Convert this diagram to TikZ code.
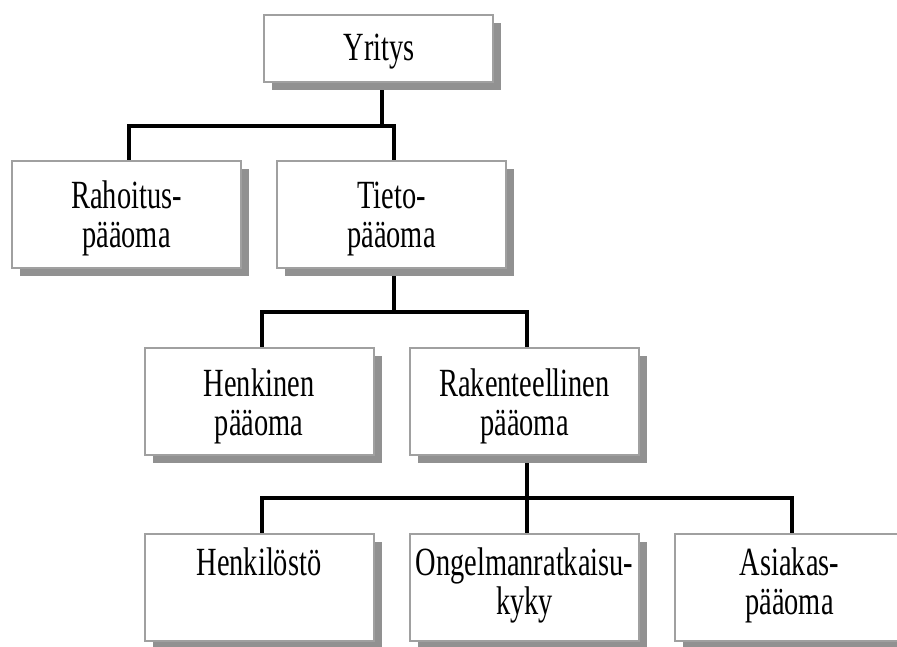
\documentclass[tikz,border=0pt]{standalone}
\usepackage{fontspec}
\setmainfont[FakeStretch=0.71]{Liberation Serif}
\usetikzlibrary{shadows,calc,backgrounds}
\definecolor{bordergray}{RGB}{160,160,160}
\definecolor{shadowgray}{RGB}{145,145,145}
\newcommand{\mytwolines}[2]{\vtop{\halign{\hfil##\hfil\cr#1\cr#2\cr}}}
\tikzset{
  box/.style={draw=bordergray, line width=2pt, fill=white, inner sep=0pt,
    minimum width=229pt, minimum height=107pt,
    general shadow={fill=shadowgray, shadow xshift=8pt, shadow yshift=-8pt}},
  topbox/.style={box, minimum height=67pt},
  txt/.style={inner sep=0pt, anchor=base, font=\fontsize{40}{39.5}\selectfont},
  conn/.style={draw=black, line width=3.5pt, line cap=rect}
}
\begin{document}
\begin{tikzpicture}[x=1pt,y=-1pt]
\useasboundingbox (0,0) rectangle (897,646);
\clip (0,0) rectangle (897,646);
% boxes
\node[topbox] (yritys) at (378.5,48.5) {};
\node[box] (rah) at (126.5,214.5) {};
\node[box] (tieto) at (391.5,214.5) {};
\node[box] (henk) at (259,401.5) {};
\node[box] (rak) at (524.5,401.5) {};
\node[box] (hst) at (259,587.5) {};
\node[box] (ong) at (524.5,587.5) {};
\node[box] (asi) at (789.5,587.5) {};
% texts
\node[txt] (yritys-t) at (379,60) {Yritys};
\node[txt] (rah-t) at (126.5,208.3) {\mytwolines{Rahoitus-}{pääoma}};
\node[txt] (tieto-t) at (391.5,208.3) {\mytwolines{Tieto-}{pääoma}};
\node[txt] (henk-t) at (259,396) {\mytwolines{Henkinen}{pääoma}};
\node[txt] (rak-t) at (524.5,396) {\mytwolines{Rakenteellinen}{pääoma}};
\node[txt] (hst-t) at (259,575) {Henkilöstö};
\node[txt] (ong-t) at (524.5,575) {\mytwolines{Ongelmanratkaisu-}{kyky}};
\node[txt] (asi-t) at (789.5,575) {\mytwolines{Asiakas-}{pääoma}};
% connectors
\begin{pgfonlayer}{background}
\draw[conn] ($(yritys.south)+(3.5,0)$) -- ++(0,43);
\draw[conn] ($(rah.north)+(2.5,0)$) -- ++(0,-34) -| ($(tieto.north)+(2.5,0)$);
\draw[conn] ($(tieto.south)+(2.5,0)$) -- ++(0,43);
\draw[conn] ($(henk.north)+(3,0)$) -- ++(0,-35) -| ($(rak.north)+(2.5,0)$);
\draw[conn] ($(rak.south)+(2.5,0)$) -- ++(0,42);
\draw[conn] ($(hst.north)+(3,0)$) -- ++(0,-35) -| ($(asi.north)+(2.5,0)$);
\draw[conn] ($(ong.north)+(2.5,0)$) -- ++(0,-35);
\end{pgfonlayer}
\end{tikzpicture}
\end{document}
